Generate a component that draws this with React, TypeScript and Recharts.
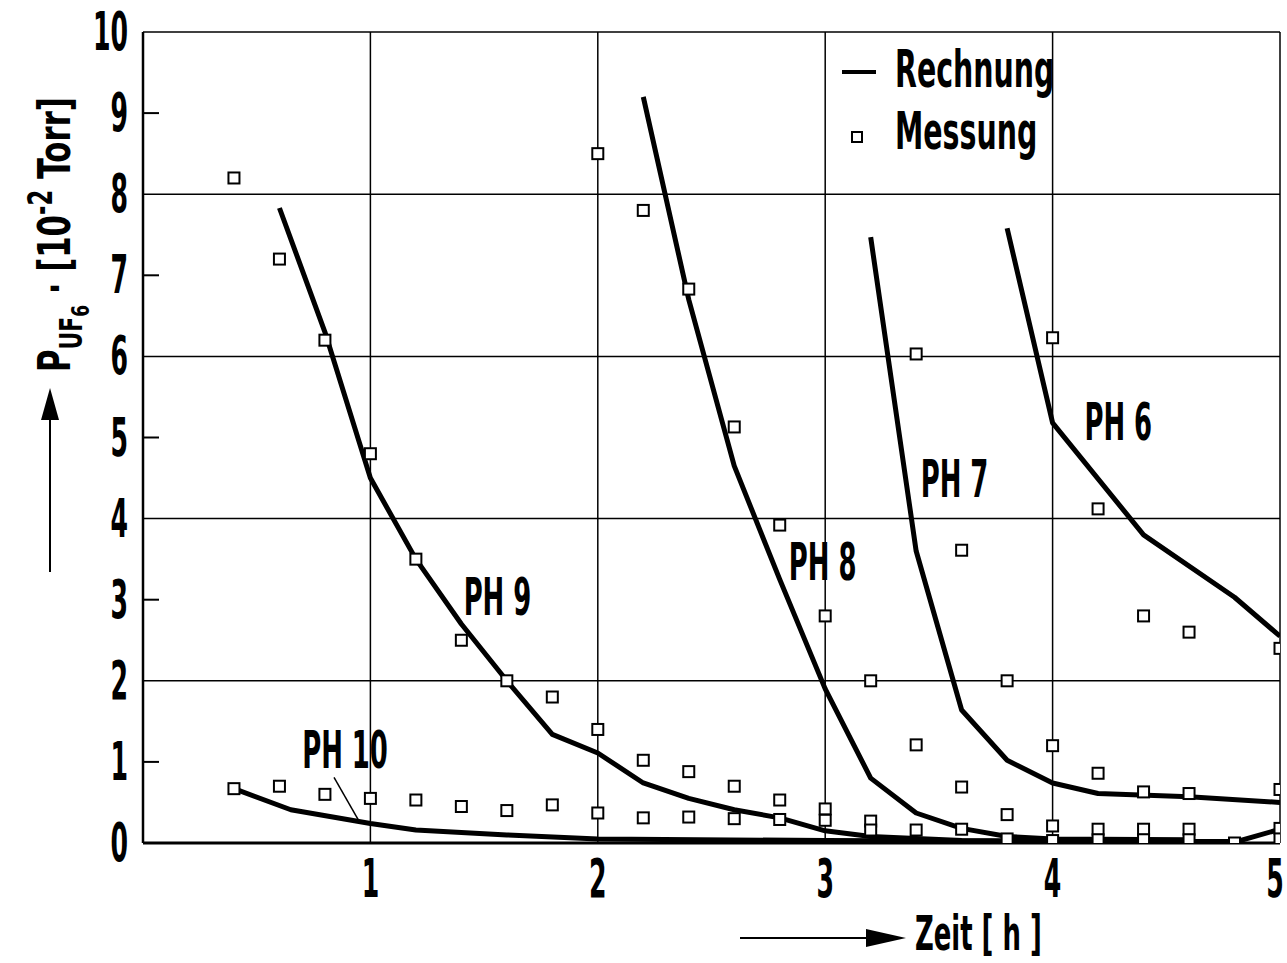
import React from 'react';
import { ComposedChart, Line, Scatter, XAxis, YAxis, ReferenceLine, ReferenceDot } from 'recharts';

const FONT = '"Liberation Sans Narrow", "DejaVu Sans Condensed", "Roboto Condensed", sans-serif';

// Rechnung – berechnete Kurven
const ph10X = [0.4, 0.65, 1.0, 1.2, 1.6, 2.0, 3.0, 4.0, 4.8, 5.0];
const ph10Y = [0.67, 0.41, 0.24, 0.16, 0.1, 0.05, 0.03, 0.02, 0.01, 0.17];
const ph9X = [0.6, 0.8, 1.0, 1.2, 1.4, 1.6, 1.8, 2.0, 2.2, 2.4, 2.6, 2.8, 3.0, 3.2, 3.6, 4.0, 4.8];
const ph9Y = [7.83, 6.3, 4.5, 3.5, 2.7, 2.0, 1.34, 1.11, 0.74, 0.55, 0.41, 0.31, 0.15, 0.08, 0.03, 0.02, 0.02];
const ph8X = [2.2, 2.4, 2.6, 2.8, 3.0, 3.2, 3.4, 3.6, 3.8, 4.0, 4.6];
const ph8Y = [9.2, 6.7, 4.65, 3.25, 1.9, 0.8, 0.37, 0.18, 0.08, 0.05, 0.04];
const ph7X = [3.2, 3.4, 3.6, 3.8, 4.0, 4.2, 4.6, 5.0];
const ph7Y = [7.47, 3.6, 1.64, 1.02, 0.74, 0.61, 0.57, 0.5];
const ph6X = [3.8, 4.0, 4.4, 4.8, 5.0];
const ph6Y = [7.58, 5.18, 3.8, 3.03, 2.55];

// Messung – Messpunkte
const messungX = [
  0.4, 0.4, 0.6, 0.6, 0.8, 0.8, 1.0, 1.0, 1.2, 1.2, 1.4, 1.4, 1.6, 1.6, 1.8, 1.8,
  2.0, 2.0, 2.0, 2.2, 2.2, 2.2, 2.4, 2.4, 2.4, 2.6, 2.6, 2.6, 2.8, 2.8, 2.8,
  3.0, 3.0, 3.0, 3.2, 3.2, 3.2, 3.4, 3.4, 3.4, 3.6, 3.6, 3.6, 3.8, 3.8, 3.8,
  4.0, 4.0, 4.0, 4.0, 4.2, 4.2, 4.2, 4.2, 4.4, 4.4, 4.4, 4.4, 4.6, 4.6, 4.6, 4.6,
  4.8, 5.0, 5.0, 5.0, 5.0,
];
const messungY = [
  8.2, 0.67, 7.2, 0.7, 6.2, 0.6, 4.8, 0.55, 3.5, 0.53, 2.5, 0.45, 2.0, 0.4, 1.8, 0.47,
  8.5, 1.4, 0.37, 7.8, 1.02, 0.31, 6.83, 0.88, 0.32, 5.13, 0.7, 0.3, 3.92, 0.53, 0.29,
  2.8, 0.42, 0.28, 2.0, 0.27, 0.16, 6.03, 1.21, 0.16, 3.61, 0.69, 0.17, 2.0, 0.35, 0.05,
  6.23, 1.2, 0.21, 0.03, 4.12, 0.86, 0.17, 0.04, 2.8, 0.63, 0.17, 0.04, 2.6, 0.61, 0.17, 0.04,
  0.0, 2.4, 0.66, 0.18, 0.05,
];

const yTicks = [0, 1, 2, 3, 4, 5, 6, 7, 8, 9, 10];
const xTicks = [1, 2, 3, 4, 5];
const gridY = [2, 4, 6, 8, 10];
const gridX = [1, 2, 3, 4, 5];

const curveLabels = [
  { text: 'PH 10', x: 0.7, y: 0.92 },
  { text: 'PH 9', x: 1.41, y: 2.81 },
  { text: 'PH 8', x: 2.84, y: 3.24 },
  { text: 'PH 7', x: 3.42, y: 4.27 },
  { text: 'PH 6', x: 4.14, y: 4.97 },
];

const toPoints = (xs: number[], ys: number[]) => xs.map((x, i) => ({ x, y: ys[i] }));
const curves = [
  toPoints(ph10X, ph10Y),
  toPoints(ph9X, ph9Y),
  toPoints(ph8X, ph8Y),
  toPoints(ph7X, ph7Y),
  toPoints(ph6X, ph6Y),
];
const messung = toPoints(messungX, messungY);

function Cond({ x, y, size = 40, sx = 0.72, sy = 1.3, anchor = 'start', children }: any) {
  return (
    <text
      transform={`translate(${x},${y}) scale(${sx},${sy})`}
      fontFamily={FONT}
      fontWeight="bold"
      fontSize={size}
      textAnchor={anchor}
      fill="#000"
    >
      {children}
    </text>
  );
}

const YTick = ({ x, y, payload }: any) => (
  <g>
    {payload.value % 2 === 1 && <line x1={x} x2={x + 16} y1={y} y2={y} stroke="#000" strokeWidth={2} />}
    <Cond x={x - 15} y={y + 18} sx={0.7} sy={1.35} anchor="end">{payload.value}</Cond>
  </g>
);

const XTick = ({ x, y, payload }: any) => (
  <Cond x={payload.value === 5 ? x - 5 : x} y={y + 54} sx={0.7} sy={1.35} anchor="middle">{payload.value}</Cond>
);

const Square = ({ cx, cy }: any) => (
  <rect x={cx - 5.5} y={cy - 5.5} width={11} height={11} fill="#fff" stroke="#000" strokeWidth={2} />
);

export default function App() {
  return (
    <div style={{ position: 'absolute', left: 0, top: 0, width: 1287, height: 963, background: '#fff' }}>
      <ComposedChart width={1287} height={963} margin={{ top: 32, right: 7, bottom: 80, left: 83 }}>
        <XAxis
          dataKey="x"
          type="number"
          domain={[0, 5]}
          ticks={xTicks}
          allowDataOverflow
          height={40}
          tickSize={0}
          tickMargin={0}
          tick={<XTick />}
          axisLine={{ stroke: '#000', strokeWidth: 3 }}
        />
        <YAxis
          type="number"
          domain={[0, 10]}
          ticks={yTicks}
          allowDataOverflow
          width={60}
          tickSize={0}
          tickMargin={0}
          tick={<YTick />}
          axisLine={{ stroke: '#000', strokeWidth: 2.5 }}
        />
        {gridY.map((v) => (
          <ReferenceLine key={`gy${v}`} y={v} stroke="#000" strokeWidth={1.5} />
        ))}
        {gridX.map((v) => (
          <ReferenceLine key={`gx${v}`} x={v} stroke="#000" strokeWidth={1.5} />
        ))}
        <ReferenceLine segment={[{ x: 0.84, y: 0.81 }, { x: 0.95, y: 0.27 }]} stroke="#000" strokeWidth={1.5} />
        {curves.map((d, i) => (
          <Line
            key={`c${i}`}
            data={d}
            dataKey="y"
            type="linear"
            stroke="#000"
            strokeWidth={5}
            strokeLinejoin="round"
            dot={false}
            isAnimationActive={false}
          />
        ))}
        <Scatter data={messung} dataKey="y" shape={<Square />} isAnimationActive={false} />
        {curveLabels.map((l) => (
          <ReferenceDot
            key={l.text}
            x={l.x}
            y={l.y}
            r={0}
            shape={(p: any) => <Cond x={p.cx} y={p.cy}>{l.text}</Cond>}
          />
        ))}
      </ComposedChart>
      <svg width={1287} height={963} style={{ position: 'absolute', left: 0, top: 0, pointerEvents: 'none' }}>
        {/* Legende */}
        <line x1={842} x2={876} y1={72} y2={72} stroke="#000" strokeWidth={4} />
        <Cond x={895} y={87} sx={0.79} sy={1.28}>Rechnung</Cond>
        <rect x={852} y={132} width={10} height={10} fill="#fff" stroke="#000" strokeWidth={2} />
        <Cond x={895} y={149} sx={0.79} sy={1.28}>Messung</Cond>
        {/* y-Achse */}
        <g transform="translate(70,372) rotate(-90)">
          <text fontFamily={FONT} fontWeight="bold" fontSize={38} fill="#000" transform="scale(0.9,1.18)">
            <tspan>P</tspan>
            <tspan fontSize={27} dy={10}>UF</tspan>
            <tspan fontSize={21} dy={6}>6</tspan>
            <tspan dy={-16}> ·  [10</tspan>
            <tspan fontSize={28} dy={-15}>-2</tspan>
            <tspan dy={15}> Torr]</tspan>
          </text>
        </g>
        <line x1={50} x2={50} y1={572} y2={415} stroke="#000" strokeWidth={2} />
        <polygon points="50,388 41,420 59,420" fill="#000" />
        {/* x-Achse */}
        <line x1={740} x2={870} y1={938} y2={938} stroke="#000" strokeWidth={2} />
        <polygon points="906,938 866,929 866,947" fill="#000" />
        <Cond x={915} y={950} sx={0.72} sy={1.22}>Zeit [ h ]</Cond>
      </svg>
    </div>
  );
}
